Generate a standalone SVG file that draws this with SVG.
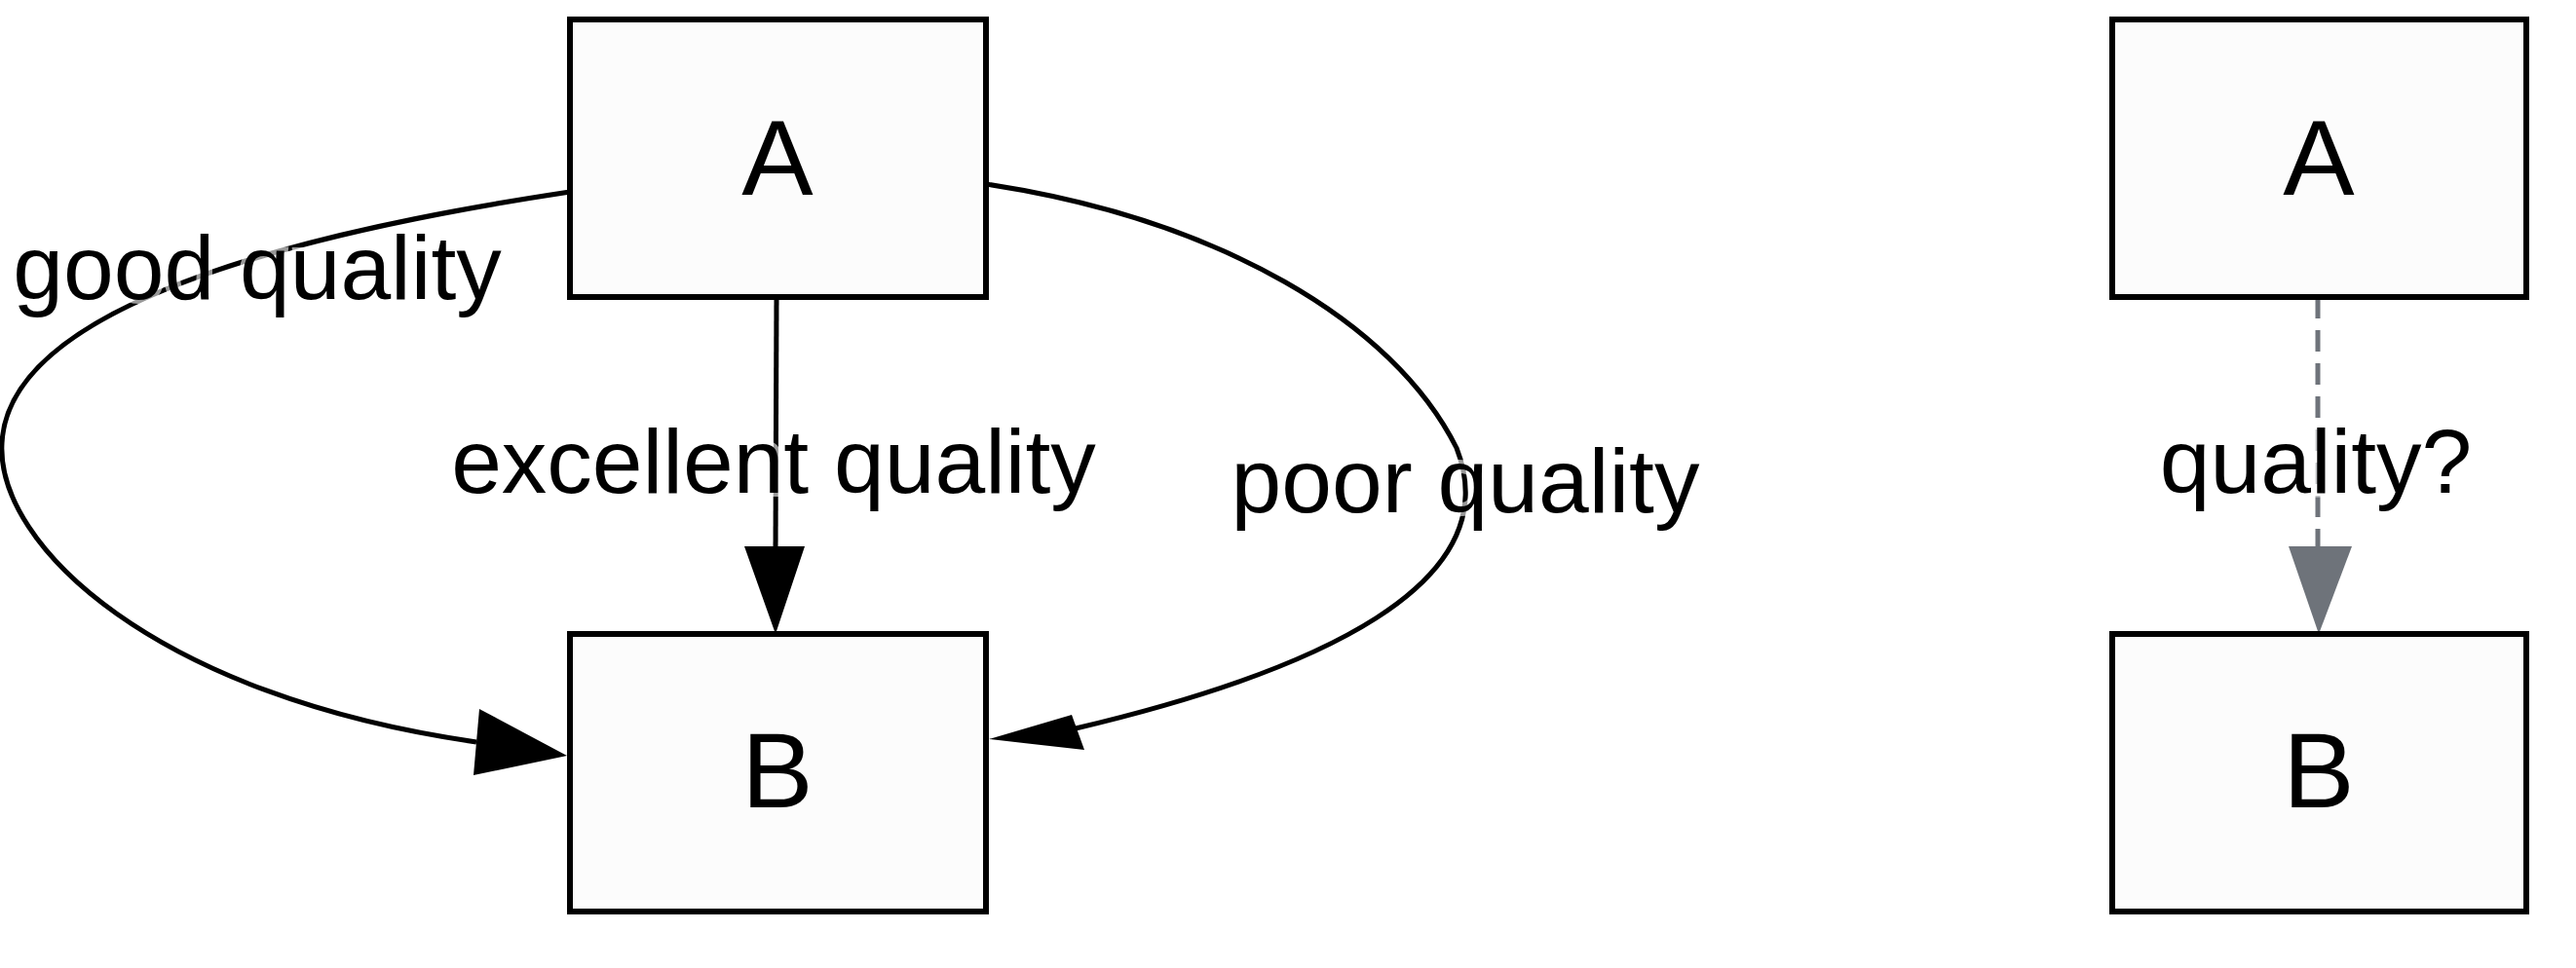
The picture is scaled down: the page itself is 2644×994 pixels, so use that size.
<svg xmlns="http://www.w3.org/2000/svg" width="2644" height="994" viewBox="0 0 2644 994">
<style>
.node{fill:#fcfcfc;stroke:#000;stroke-width:6}
.nt{font-family:"Liberation Sans",Arial,sans-serif;font-size:110px;text-anchor:middle;fill:#000}
.lbl{font-family:"Liberation Sans",Arial,sans-serif;font-size:93px;text-anchor:middle;fill:#000;stroke:#fff;stroke-opacity:0.6;stroke-width:8;paint-order:stroke}
.e{fill:none;stroke:#000;stroke-width:5}
</style>
<rect width="2644" height="994" fill="#fff"/>
<g id="connectors">
<path class="e" d="M797,305 L796,565"/>
<polygon points="764,561 826,561 796,651" fill="#000"/>
<path class="e" d="M585,197 C420,222 10,290 2,455 C-4,560 160,715 489,762"/>
<polygon points="492,728 486,796 582,776" fill="#000"/>
<path class="e" d="M1012,189 C1250,225 1430,330 1495,460 C1550,600 1350,690 1104,748"/>
<polygon points="1100,734 1113,770 1015,759" fill="#000"/>
<path d="M2379,305 L2379,565" fill="none" stroke="#6e737a" stroke-width="5" stroke-dasharray="22,12"/>
<polygon points="2349,561 2414,561 2380,651" fill="#6e737a"/>
</g>
<g id="A1"><rect class="node" x="585" y="20" width="427" height="285"/><text class="nt" x="798" y="200">A</text></g>
<g id="B1"><rect class="node" x="585" y="651" width="427" height="285"/><text class="nt" x="798" y="829">B</text></g>
<g id="A2"><rect class="node" x="2168" y="20" width="425" height="285"/><text class="nt" x="2380" y="200">A</text></g>
<g id="B2"><rect class="node" x="2168" y="651" width="425" height="285"/><text class="nt" x="2380" y="829">B</text></g>
<g id="labels">
<text class="lbl" x="264" y="307">good quality</text>
<text class="lbl" x="794" y="506">excellent quality</text>
<text class="lbl" x="1504" y="526">poor quality</text>
<text class="lbl" x="2377" y="506">quality?</text>
</g>
</svg>
